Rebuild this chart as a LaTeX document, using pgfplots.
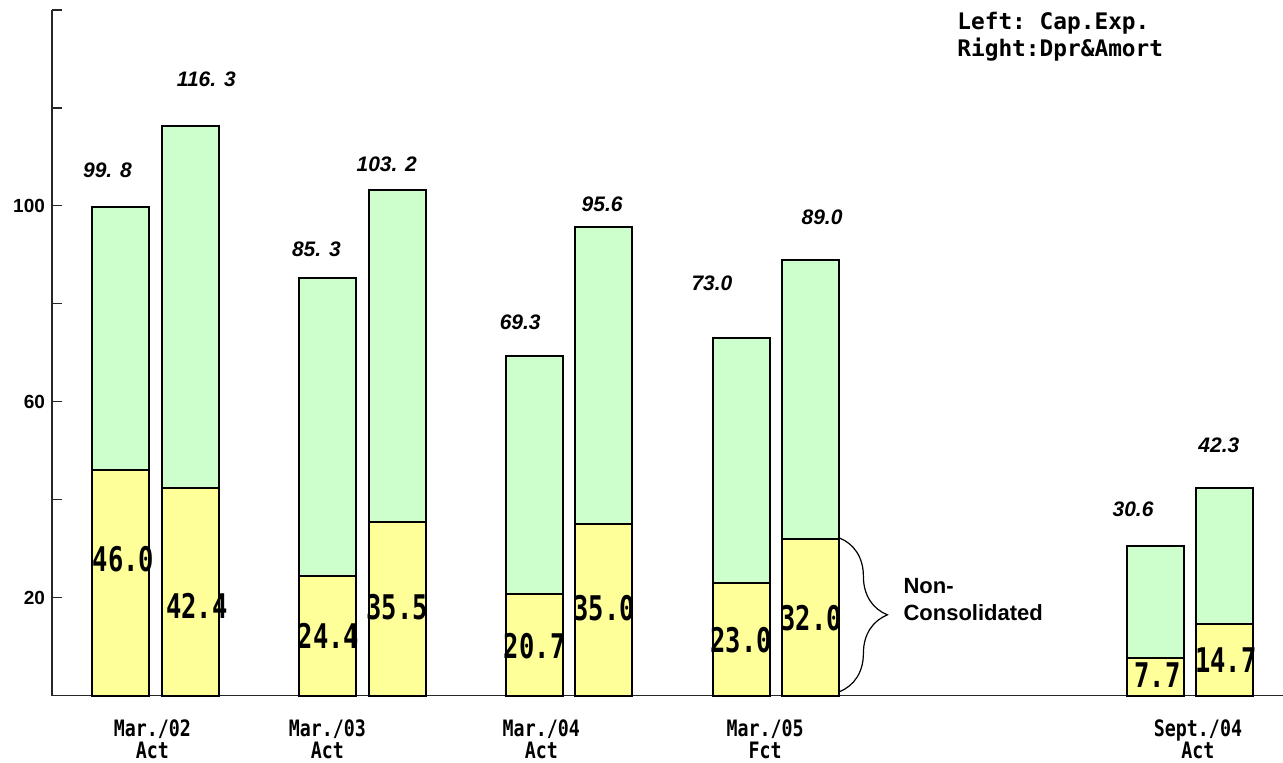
\documentclass[border=0pt]{standalone}
\usepackage{pgfplots}
\pgfplotsset{compat=1.18}
\usepackage{fontspec}
\setmainfont{Liberation Sans}
\newfontfamily\monof{DejaVu Sans Mono}
\usetikzlibrary{decorations.pathreplacing}
\definecolor{cgreen}{RGB}{204,255,204}
\definecolor{cyellow}{RGB}{255,255,153}
\begin{document}
\begin{tikzpicture}
\begin{axis}[
  scale only axis, width=615.8pt, height=343pt,
  xmin=-0.5, xmax=5.45, ymin=0, ymax=140,
  axis x line=bottom, axis y line=left,
  axis line style={-, line width=0.7pt, black!85},
  xtick={-0.0145,0.831,1.865,2.947,5.039},
  xticklabels={Mar./02\\Act, Mar./03\\Act, Mar./04\\Act, Mar./05\\Fct, Sept./04\\Act},
  x tick style={draw=none},
  xticklabel style={font=\monof\bfseries\fontsize{11.3}{11}\selectfont, align=center, xscale=0.81, yshift=-8.5pt},
  ytick={0,20,...,140}, yticklabels={,20,,60,,100,,},
  y tick style={line width=0.6pt, black!85},
  tick align=inside, major tick length=5pt,
  yticklabel style={font=\bfseries\fontsize{9.5}{10}\selectfont},
  /pgf/number format/assume math mode=true,
  clip=false,
]
% totals (consolidated)
\addplot[ybar, bar width=0.2754, bar shift=-0.168, fill=cgreen, draw=black, line width=1pt]
  coordinates {(0,99.8) (1,85.3) (2,69.3) (3,73.0) (5,30.6)};
\addplot[ybar, bar width=0.2754, bar shift=0.168, fill=cgreen, draw=black, line width=1pt]
  coordinates {(0,116.3) (1,103.2) (2,95.6) (3,89.0) (5,42.3)};
% non-consolidated
\addplot[ybar, bar width=0.2754, bar shift=-0.168, fill=cyellow, draw=black, line width=1pt]
  coordinates {(0,46.0) (1,24.4) (2,20.7) (3,23.0) (5,7.7)};
\addplot[ybar, bar width=0.2754, bar shift=0.168, fill=cyellow, draw=black, line width=1pt]
  coordinates {(0,42.4) (1,35.5) (2,35.0) (3,32.0) (5,14.7)};

% total labels
\begin{scope}[every node/.style={font=\bfseries\itshape\fontsize{10.5}{11}\selectfont, inner sep=0pt}]
\node at (axis cs:-0.232,107.3) {99. 8};
\node at (axis cs:0.246,125.8) {116. 3};
\node at (axis cs:0.778,91.2) {85. 3};
\node at (axis cs:1.118,108.5) {103. 2};
\node at (axis cs:1.763,76.3) {69.3};
\node at (axis cs:2.159,100.3) {95.6};
\node at (axis cs:2.690,84.2) {73.0};
\node at (axis cs:3.222,97.6) {89.0};
\node at (axis cs:4.725,38.0) {30.6};
\node at (axis cs:5.140,51.2) {42.3};
\end{scope}

% non-consolidated labels
\begin{scope}[every node/.style={font=\monof\bfseries\fontsize{17}{17}\selectfont, xscale=0.75, inner sep=0pt}]
\node at (axis cs:-0.155,27.9) {46.0};
\node at (axis cs:0.200,18.4) {42.4};
\node at (axis cs:0.836,12.2) {24.4};
\node at (axis cs:1.169,18.0) {35.5};
\node at (axis cs:1.833,10.2) {20.7};
\node at (axis cs:2.169,17.8) {35.0};
\node at (axis cs:2.831,11.4) {23.0};
\node at (axis cs:3.169,15.9) {32.0};
\node at (axis cs:4.843,4.1) {7.7};
\node at (axis cs:5.174,7.2) {14.7};
\end{scope}

% brace
\draw[decorate, decoration={brace, amplitude=24pt}, line width=0.6pt]
  (axis cs:3.306,32.2) -- (axis cs:3.306,0.8);
\node[anchor=west, align=left, inner sep=0pt, font=\bfseries\fontsize{11}{13.5}\selectfont]
  at (axis cs:3.614,19.6) {Non-\\Consolidated};

% legend text
\node[anchor=west, align=left, inner sep=0pt, font=\monof\bfseries\fontsize{11.4}{13.5}\selectfont]
  at (axis cs:3.874,134.5) {Left:\ Cap.Exp.\\Right:Dpr\&Amort};
\end{axis}
\pgfresetboundingbox
\path ([shift={(-26pt,-33.5pt)}]current axis.south west) rectangle ([shift={(0pt,5pt)}]current axis.north east);
\end{tikzpicture}
\end{document}
